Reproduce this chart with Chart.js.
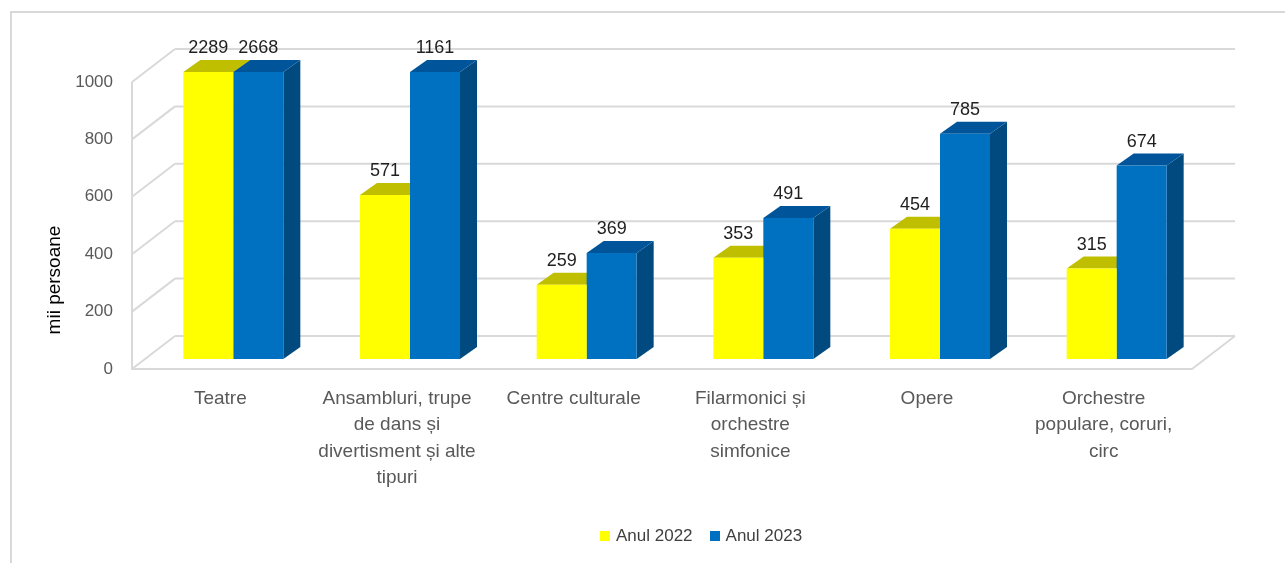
<!DOCTYPE html>
<html>
<head>
<meta charset="utf-8">
<script src="https://cdn.jsdelivr.net/npm/chart.js@4"></script>
<style>
  html, body { margin: 0; padding: 0; overflow: hidden; background: #fff; }
  #frame { position: absolute; left: 10px; top: 11px; width: 1320px; height: 620px; border: 2px solid #d9d9d9; box-sizing: border-box; }
  #wrap { position: absolute; left: 0; top: 0; width: 1285px; height: 563px; }
  #legend { position: absolute; top: 526px; left: 600px; display: flex; align-items: center;
            font: 17px 'Liberation Sans', Arial, sans-serif; color: #404040; }
  #legend .box { display: inline-block; width: 10px; height: 10px; margin-right: 6px; }
</style>
</head>
<body>
<div id="frame"></div>
<div id="wrap"><canvas id="chart"></canvas></div>
<div id="legend"></div>
<script>
// data
const categories = [
  ['Teatre'],
  ['Ansambluri, trupe', 'de dans și', 'divertisment și alte', 'tipuri'],
  ['Centre culturale'],
  ['Filarmonici și', 'orchestre', 'simfonice'],
  ['Opere'],
  ['Orchestre', 'populare, coruri,', 'circ']
];
const anul2022 = [2289, 571, 259, 353, 454, 315];
const anul2023 = [2668, 1161, 369, 491, 785, 674];
const seriesNames = ['Anul 2022', 'Anul 2023'];
const yTicks = [0, 200, 400, 600, 800, 1000];

const FONT = "'Liberation Sans', Arial, sans-serif";
const frontColors = ['#ffff00', '#0070c0'];
const topColors = ['#bfbf00', '#00559a'];
const sideColors = ['#9a9a00', '#004a80'];
const gridColor = '#d9d9d9';

// 3D offsets (pixels, relative to bar front plane)
const BACK = { dx: 30, dy: -23 };   // back wall
const FRONT = { dx: -13, dy: 10 };  // front edge of floor
const DEPTH = { dx: 17, dy: -12 };  // bar depth

function quad(ctx, pts, color) {
  ctx.beginPath();
  ctx.moveTo(pts[0][0], pts[0][1]);
  for (let i = 1; i < pts.length; i++) ctx.lineTo(pts[i][0], pts[i][1]);
  ctx.closePath();
  ctx.fillStyle = color;
  ctx.fill();
}

const bars3d = {
  id: 'bars3d',
  beforeDatasetsDraw(chart) {
    const ctx = chart.ctx;
    const area = chart.chartArea;
    const y = chart.scales.y;
    ctx.save();
    ctx.strokeStyle = gridColor;
    ctx.lineWidth = 2;

    // back wall grid + side wall diagonals
    yTicks.forEach(v => {
      const py = y.getPixelForValue(v);
      ctx.beginPath();
      ctx.moveTo(area.left + BACK.dx, py + BACK.dy);
      ctx.lineTo(area.right + BACK.dx, py + BACK.dy);
      ctx.moveTo(area.left + BACK.dx, py + BACK.dy);
      ctx.lineTo(area.left + FRONT.dx, py + FRONT.dy);
      ctx.stroke();
    });
    // front left edge and floor
    const y0 = y.getPixelForValue(0), yMax = y.getPixelForValue(1000);
    ctx.beginPath();
    ctx.moveTo(area.left + FRONT.dx, yMax + FRONT.dy);
    ctx.lineTo(area.left + FRONT.dx, y0 + FRONT.dy);
    ctx.lineTo(area.right + FRONT.dx, y0 + FRONT.dy);
    ctx.lineTo(area.right + BACK.dx, y0 + BACK.dy);
    ctx.stroke();

    // side faces, then top faces (fronts are drawn by chart.js afterwards)
    const metas = chart.getSortedVisibleDatasetMetas();
    metas.forEach(meta => {
      meta.data.forEach(el => {
        const top = Math.max(el.y, area.top);
        const r = el.x + el.width / 2;
        quad(ctx, [[r, top], [r + DEPTH.dx, top + DEPTH.dy], [r + DEPTH.dx, el.base + DEPTH.dy], [r, el.base]],
             sideColors[meta.index]);
      });
    });
    metas.forEach(meta => {
      meta.data.forEach(el => {
        const top = Math.max(el.y, area.top);
        const l = el.x - el.width / 2, r = el.x + el.width / 2;
        quad(ctx, [[l, top], [r, top], [r + DEPTH.dx, top + DEPTH.dy], [l + DEPTH.dx, top + DEPTH.dy]],
             topColors[meta.index]);
      });
    });
    ctx.restore();
  },
  afterDatasetsDraw(chart) {
    const ctx = chart.ctx;
    const area = chart.chartArea;
    ctx.save();
    // value labels
    ctx.font = '18px ' + FONT;
    ctx.fillStyle = '#1f1f1f';
    ctx.textAlign = 'center';
    ctx.textBaseline = 'alphabetic';
    chart.getSortedVisibleDatasetMetas().forEach(meta => {
      const values = chart.data.datasets[meta.index].data;
      meta.data.forEach((el, i) => {
        const top = Math.max(el.y, area.top);
        ctx.fillText(String(values[i]), el.x, top - 19);
      });
    });
    // y axis title
    ctx.translate(55, 280);
    ctx.rotate(-Math.PI / 2);
    ctx.font = '19px ' + FONT;
    ctx.fillStyle = '#000';
    ctx.textBaseline = 'middle';
    ctx.fillText('mii persoane', 0, 0);
    ctx.restore();
  }
};

new Chart(document.getElementById('chart'), {
  type: 'bar',
  data: {
    labels: categories,
    datasets: [
      { label: seriesNames[0], data: anul2022, backgroundColor: frontColors[0], clip: 0 },
      { label: seriesNames[1], data: anul2023, backgroundColor: frontColors[1], clip: 0 }
    ]
  },
  options: {
    responsive: true,
    maintainAspectRatio: false,
    animation: false,
    categoryPercentage: 0.566,
    barPercentage: 1,
    layout: { padding: { top: 72, right: 80, bottom: 54, left: 0 } },
    plugins: { legend: { display: false }, tooltip: { enabled: false } },
    scales: {
      x: {
        grid: { display: false, drawTicks: false },
        border: { display: false },
        ticks: {
          color: '#595959', font: { family: FONT, size: 19, lineHeight: 1.4 },
          padding: 26, labelOffset: -13, maxRotation: 0, minRotation: 0, autoSkip: false
        },
        afterFit: s => { s.height = 150; }
      },
      y: {
        min: 0, max: 1000,
        grid: { display: false, drawTicks: false },
        border: { display: false },
        ticks: {
          stepSize: 200, color: '#595959', font: { family: FONT, size: 17 },
          padding: 32, labelOffset: 10,
          callback: v => String(v)
        },
        afterFit: s => { s.width = 145; }
      }
    }
  },
  plugins: [bars3d]
});

// legend
const legend = document.getElementById('legend');
seriesNames.forEach((name, i) => {
  const item = document.createElement('span');
  item.style.display = 'inline-flex';
  item.style.alignItems = 'center';
  item.style.marginLeft = i ? '17px' : '0';
  item.innerHTML = '<span class="box" style="background:' + frontColors[i] + '"></span>' + name;
  legend.appendChild(item);
});
</script>
</body>
</html>
